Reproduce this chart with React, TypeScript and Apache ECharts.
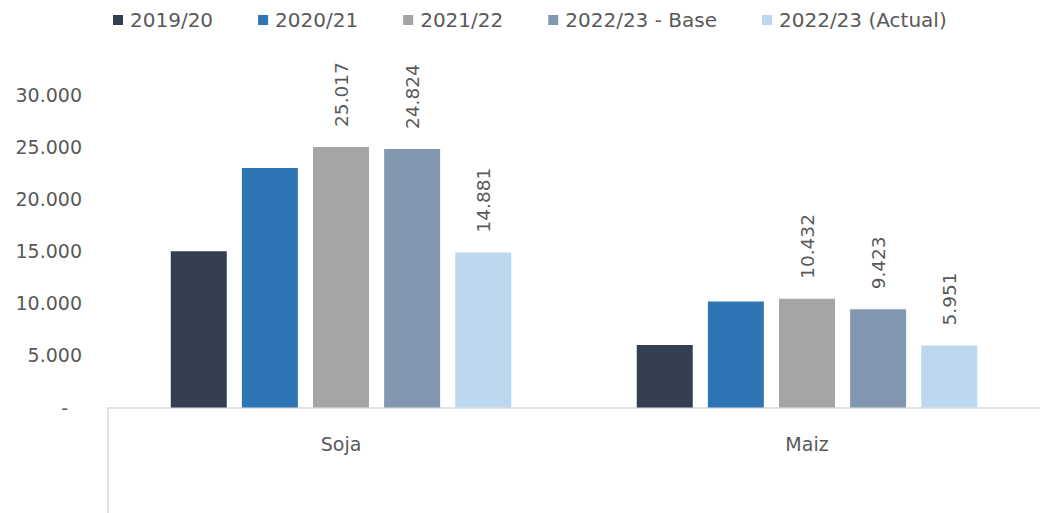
import React, { useEffect, useRef } from "react";
import * as echarts from "echarts";

const categories = ["Soja", "Maiz"];
const seriesNames = ["2019/20", "2020/21", "2021/22", "2022/23 - Base", "2022/23 (Actual)"];
const s2019 = [15000, 6000];
const s2020 = [23000, 10170];
const s2021 = [25017, 10432];
const sBase = [24824, 9423];
const sActual = [14881, 5951];
const seriesValues = [s2019, s2020, s2021, sBase, sActual];
const labeled = [false, false, true, true, true];
const colors = ["#333F50", "#2E75B6", "#A5A5A5", "#8497B0", "#BDD7EE"];

const fmt = (v: number) => String(Math.round(v)).replace(/\B(?=(\d{3})+(?!\d))/g, ".");

const FONT = "DejaVu Sans";
const TXT = "#595959";

export default function App() {
  const ref = useRef<HTMLDivElement>(null);
  useEffect(() => {
    if (!ref.current) return;
    const chart = echarts.init(ref.current, undefined, { renderer: "svg" });
    chart.setOption({
      animation: false,
      backgroundColor: "#ffffff",
      textStyle: { fontFamily: FONT, color: TXT },
      legend: {
        top: 5,
        left: 108,
        itemWidth: 10,
        itemHeight: 10,
        itemGap: 45,
        icon: "rect",
        textStyle: { fontFamily: FONT, fontSize: 20, color: TXT, padding: [0, 0, 0, 2] },
        data: seriesNames,
      },
      grid: { left: 108, right: 0, top: 95, bottom: 105.5, containLabel: false },
      xAxis: {
        type: "category",
        data: categories,
        axisLine: { show: true, lineStyle: { color: "#D9D9D9", width: 1.5 } },
        axisTick: { show: false },
        axisLabel: { fontFamily: FONT, fontSize: 19, color: TXT, margin: 27 },
      },
      yAxis: {
        type: "value",
        min: 0,
        max: 30000,
        interval: 5000,
        axisLine: { show: false },
        axisTick: { show: false },
        splitLine: { show: false },
        axisLabel: {
          fontFamily: FONT,
          fontSize: 19,
          color: TXT,
          margin: 26,
          formatter: (v: number) => (v === 0 ? "{d|-}" : fmt(v)),
          rich: { d: { fontFamily: FONT, fontSize: 19, color: TXT, padding: [0, 14, 0, 0] } },
        },
      },
      series: seriesNames.map((name, i) => ({
        name,
        type: "bar",
        data: seriesValues[i],
        barWidth: 56,
        barGap: "27%",
        itemStyle: { color: colors[i] },
        label: {
          show: labeled[i],
          position: "top",
          rotate: 90,
          align: "left",
          verticalAlign: "middle",
          distance: 20,
          fontFamily: FONT,
          fontSize: 18.5,
          color: TXT,
          formatter: (p: any) => fmt(p.value),
        },
      })),
      graphic: [
        {
          type: "line",
          shape: { x1: 108, y1: 408, x2: 108, y2: 513 },
          style: { stroke: "#D9D9D9", lineWidth: 1.5 },
        },
      ],
    });
    return () => chart.dispose();
  }, []);
  return (
    <div
      ref={ref}
      style={{ position: "absolute", left: 0, top: 0, width: 1040, height: 513 }}
    />
  );
}
